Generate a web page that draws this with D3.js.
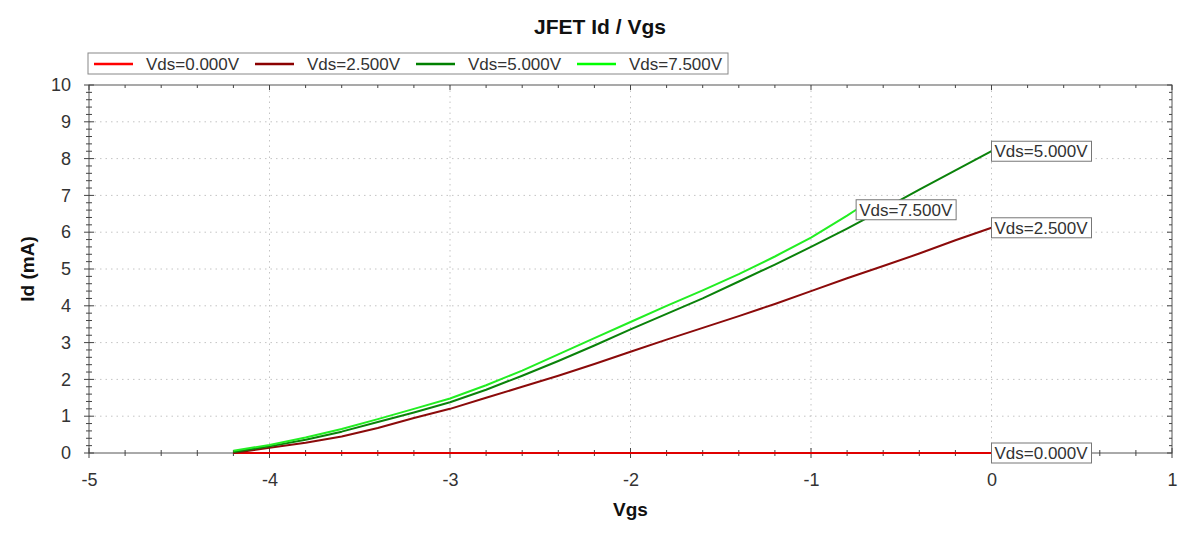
<!DOCTYPE html>
<html>
<head>
<meta charset="utf-8">
<title>JFET Id / Vgs</title>
<script src="https://d3js.org/d3.v7.min.js"></script>
<style>
  body { margin: 0; background: #fff; }
  svg { display: block; font-family: 'Liberation Sans', Arial, sans-serif; }
</style>
</head>
<body>
<svg id="chart" width="1200" height="536"></svg>
<script>
// series (Vgs in V, Id in mA)
var vgs = [-4.2, -4.0, -3.8, -3.6, -3.4, -3.2, -3.0, -2.8, -2.6, -2.4, -2.2, -2.0, -1.8, -1.6, -1.4, -1.2, -1.0, -0.8, -0.6, -0.4, -0.2, 0.0];
var vgs75 = [-4.2, -4.0, -3.8, -3.6, -3.4, -3.2, -3.0, -2.8, -2.6, -2.4, -2.2, -2.0, -1.8, -1.6, -1.4, -1.2, -1.0, -0.8, -0.75];
var id0  = [0, 0, 0, 0, 0, 0, 0, 0, 0, 0, 0, 0, 0, 0, 0, 0, 0, 0, 0, 0, 0, 0];
var id25 = [0.00, 0.14, 0.28, 0.45, 0.68, 0.95, 1.20, 1.50, 1.80, 2.10, 2.42, 2.75, 3.08, 3.40, 3.72, 4.05, 4.40, 4.75, 5.08, 5.42, 5.78, 6.12];
var id50 = [0.03, 0.18, 0.36, 0.58, 0.84, 1.10, 1.38, 1.72, 2.10, 2.50, 2.92, 3.36, 3.78, 4.20, 4.66, 5.12, 5.60, 6.10, 6.62, 7.16, 7.68, 8.20];
var id75 = [0.06, 0.22, 0.42, 0.65, 0.92, 1.20, 1.48, 1.84, 2.24, 2.68, 3.12, 3.56, 4.00, 4.42, 4.86, 5.34, 5.85, 6.45, 6.61];

var names = ['Vds=0.000V', 'Vds=2.500V', 'Vds=5.000V', 'Vds=7.500V'];
var colors = ['#e00000', '#8b0a0a', '#0a820a', '#22ee22'];
var legendColors = ['#ff0000', '#8b0000', '#008000', '#00ff00'];

var xTicks = [-5, -4, -3, -2, -1, 0, 1];
var yTicks = [0, 1, 2, 3, 4, 5, 6, 7, 8, 9, 10];

var series = [
  { name: names[0], xs: vgs, ys: id0 },
  { name: names[1], xs: vgs, ys: id25 },
  { name: names[2], xs: vgs, ys: id50 },
  { name: names[3], xs: vgs75, ys: id75 }
];

var pLeft = 89, pRight = 1172, pTop = 85, pBottom = 453;
var svg = d3.select('#chart');

var x = d3.scaleLinear().domain([-5, 1]).range([pLeft, pRight]);
var y = d3.scaleLinear().domain([0, 10]).range([pBottom, pTop]);

// grid
svg.append('g').selectAll('line')
  .data(xTicks.slice(1, -1)).enter().append('line')
  .attr('x1', d => x(d)).attr('x2', d => x(d))
  .attr('y1', pTop).attr('y2', pBottom)
  .attr('stroke', '#c4c4c4').attr('stroke-dasharray', '1.5,4');
svg.append('g').selectAll('line')
  .data(yTicks.slice(1, -1)).enter().append('line')
  .attr('y1', d => y(d)).attr('y2', d => y(d))
  .attr('x1', pLeft).attr('x2', pRight)
  .attr('stroke', '#c4c4c4').attr('stroke-dasharray', '1.5,4');

// frame
svg.append('rect')
  .attr('x', pLeft).attr('y', pTop)
  .attr('width', pRight - pLeft).attr('height', pBottom - pTop)
  .attr('fill', 'none').attr('stroke', '#555').attr('stroke-width', 1);

// ticks
var minorX = d3.range(-5, 1.001, 0.2).map(d => +d.toFixed(1));
var minorY = d3.range(0, 10.001, 0.2).map(d => +d.toFixed(1));
var isMajor = d => Math.abs(d - Math.round(d)) < 1e-6;

var tk = svg.append('g').attr('stroke', '#444').attr('stroke-width', 1);
tk.selectAll('.bx').data(minorX).enter().append('line')
  .attr('x1', d => x(d)).attr('x2', d => x(d))
  .attr('y1', d => pBottom - (isMajor(d) ? 5 : 3))
  .attr('y2', d => pBottom + (isMajor(d) ? 5 : 3));
tk.selectAll('.tx').data(minorX).enter().append('line')
  .attr('x1', d => x(d)).attr('x2', d => x(d))
  .attr('y1', pTop).attr('y2', d => pTop + (isMajor(d) ? 5 : 3));
tk.selectAll('.ly').data(minorY).enter().append('line')
  .attr('y1', d => y(d)).attr('y2', d => y(d))
  .attr('x1', d => pLeft - (isMajor(d) ? 5 : 3))
  .attr('x2', d => pLeft + (isMajor(d) ? 5 : 3));
tk.selectAll('.ry').data(minorY).enter().append('line')
  .attr('y1', d => y(d)).attr('y2', d => y(d))
  .attr('x1', d => pRight - (isMajor(d) ? 5 : 3)).attr('x2', pRight);

// tick labels via axes
var xAxis = svg.append('g')
  .attr('transform', 'translate(0,' + pBottom + ')')
  .call(d3.axisBottom(x).tickValues(xTicks).tickSize(0).tickPadding(20).tickFormat(d => String(d)));
var yAxis = svg.append('g')
  .attr('transform', 'translate(' + pLeft + ',0)')
  .call(d3.axisLeft(y).tickValues(yTicks).tickSize(0).tickPadding(18).tickFormat(d => String(d)));
[xAxis, yAxis].forEach(a => {
  a.select('.domain').remove();
  a.selectAll('text').attr('font-size', 18).attr('fill', '#333')
    .attr('font-family', "'Liberation Sans', Arial, sans-serif");
});

// curves
var line = d3.line().x(d => x(d[0])).y(d => y(d[1]));
svg.append('g').selectAll('path')
  .data(series).enter().append('path')
  .attr('d', s => line(s.xs.map((v, i) => [v, s.ys[i]])))
  .attr('fill', 'none')
  .attr('stroke', (s, i) => colors[i])
  .attr('stroke-width', 2)
  .attr('stroke-linejoin', 'round');

// end labels
var lab = svg.append('g').selectAll('g')
  .data(series).enter().append('g')
  .attr('transform', s => {
    var n = s.xs.length - 1;
    return 'translate(' + x(s.xs[n]) + ',' + y(s.ys[n]) + ')';
  });
lab.append('rect')
  .attr('x', 0).attr('y', -10).attr('width', 100).attr('height', 20)
  .attr('fill', '#fff').attr('stroke', '#777');
lab.append('text')
  .attr('x', 3).attr('y', 6)
  .attr('font-size', 17).attr('fill', '#333')
  .text(s => s.name);

// legend
var lg = svg.append('g');
lg.append('rect')
  .attr('x', 88).attr('y', 53).attr('width', 640).attr('height', 21)
  .attr('fill', '#fff').attr('stroke', '#888');
var li = lg.selectAll('g').data(names).enter().append('g')
  .attr('transform', (d, i) => 'translate(' + (94 + i * 161) + ',64)');
li.append('line')
  .attr('x1', 0).attr('x2', 39)
  .attr('stroke', (d, i) => legendColors[i]).attr('stroke-width', 2.5);
li.append('text')
  .attr('x', 52).attr('y', 6)
  .attr('font-size', 17).attr('fill', '#333')
  .text(d => d);

// titles
svg.append('text')
  .attr('x', 600).attr('y', 34).attr('text-anchor', 'middle')
  .attr('font-size', 21).attr('font-weight', 'bold').attr('fill', '#111')
  .text('JFET Id / Vgs');
svg.append('text')
  .attr('x', (pLeft + pRight) / 2).attr('y', 516).attr('text-anchor', 'middle')
  .attr('font-size', 19).attr('font-weight', 'bold').attr('fill', '#111')
  .text('Vgs');
svg.append('text')
  .attr('transform', 'translate(34,' + y(5) + ') rotate(-90)')
  .attr('text-anchor', 'middle')
  .attr('font-size', 19).attr('font-weight', 'bold').attr('fill', '#111')
  .text('Id (mA)');
</script>
</body>
</html>
